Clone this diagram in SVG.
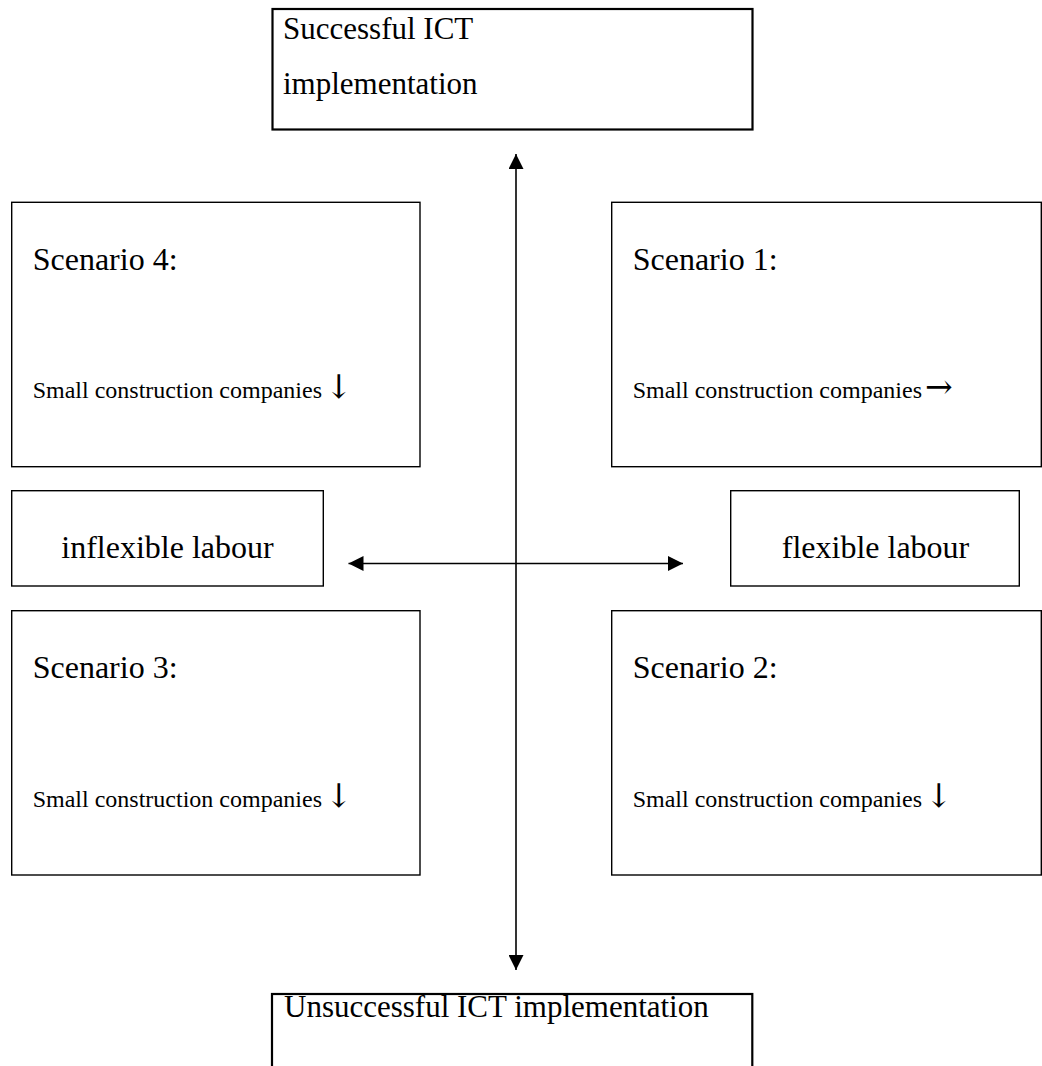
<svg xmlns="http://www.w3.org/2000/svg" width="1042" height="1066" viewBox="0 0 1042 1066">
<style>
  .thick { fill: #ffffff; stroke: #000000; stroke-width: 2.2; }
  .thin { fill: #ffffff; stroke: #000000; stroke-width: 1.4; }
  .big { font-family: "Liberation Serif", "DejaVu Serif", serif; font-size: 32px; fill: #000000; }
  .top { font-family: "Liberation Serif", "DejaVu Serif", serif; font-size: 31px; fill: #000000; }
  .small { font-family: "Liberation Serif", "DejaVu Serif", serif; font-size: 24px; fill: #000000; }
  .arr { font-family: "DejaVu Serif", serif; font-size: 33px; fill: #000000; }
  .conn { stroke: #000000; stroke-width: 1.6; fill: none; }
</style>
<defs>
  <marker id="ah" markerUnits="userSpaceOnUse" markerWidth="16" markerHeight="15" refX="15" refY="7.5" orient="auto-start-reverse" viewBox="0 0 16 15">
    <path d="M0,0 L15,7.5 L0,15 z" fill="#000000"/>
  </marker>
</defs>
<rect width="1042" height="1066" fill="#ffffff"/>

<g id="connectors">
  <line class="conn" x1="516" y1="154" x2="516" y2="970" marker-start="url(#ah)" marker-end="url(#ah)"/>
  <line class="conn" x1="348.5" y1="563.5" x2="683" y2="563.5" marker-start="url(#ah)" marker-end="url(#ah)"/>
</g>

<g id="node-successful">
  <rect class="thick" x="272.5" y="9" width="480" height="120.5"/>
  <text class="top" x="283" y="39">Successful ICT</text>
  <text class="top" x="283" y="94">implementation</text>
</g>

<g id="node-scenario4">
  <rect class="thin" x="11.7" y="202.3" width="408.3" height="264.4"/>
  <text class="big" x="32.7" y="270">Scenario 4:</text>
  <text class="small" x="32.7" y="398">Small construction companies</text>
  <text class="arr" x="325" y="398">↓</text>
</g>

<g id="node-scenario1">
  <rect class="thin" x="611.7" y="202.3" width="429.6" height="264.4"/>
  <text class="big" x="632.7" y="270">Scenario 1:</text>
  <text class="small" x="632.7" y="398">Small construction companies</text>
  <text class="arr" x="925" y="398">→</text>
</g>

<g id="node-inflexible">
  <rect class="thin" x="11.7" y="490.7" width="311.6" height="95.3"/>
  <text class="big" x="167.5" y="558" text-anchor="middle">inflexible labour</text>
</g>

<g id="node-flexible">
  <rect class="thin" x="730.7" y="490.7" width="288.6" height="95.3"/>
  <text class="big" x="875.5" y="558" text-anchor="middle">flexible labour</text>
</g>

<g id="node-scenario3">
  <rect class="thin" x="11.7" y="610.7" width="408.3" height="264.3"/>
  <text class="big" x="32.7" y="678">Scenario 3:</text>
  <text class="small" x="32.7" y="806.7">Small construction companies</text>
  <text class="arr" x="325" y="806.7">↓</text>
</g>

<g id="node-scenario2">
  <rect class="thin" x="611.7" y="610.7" width="429.6" height="264.3"/>
  <text class="big" x="632.7" y="678">Scenario 2:</text>
  <text class="small" x="632.7" y="806.7">Small construction companies</text>
  <text class="arr" x="925" y="806.7">↓</text>
</g>

<g id="node-unsuccessful">
  <rect class="thick" x="272" y="994" width="480.3" height="100"/>
  <text class="top" x="284" y="1016.7">Unsuccessful ICT implementation</text>
</g>
</svg>
